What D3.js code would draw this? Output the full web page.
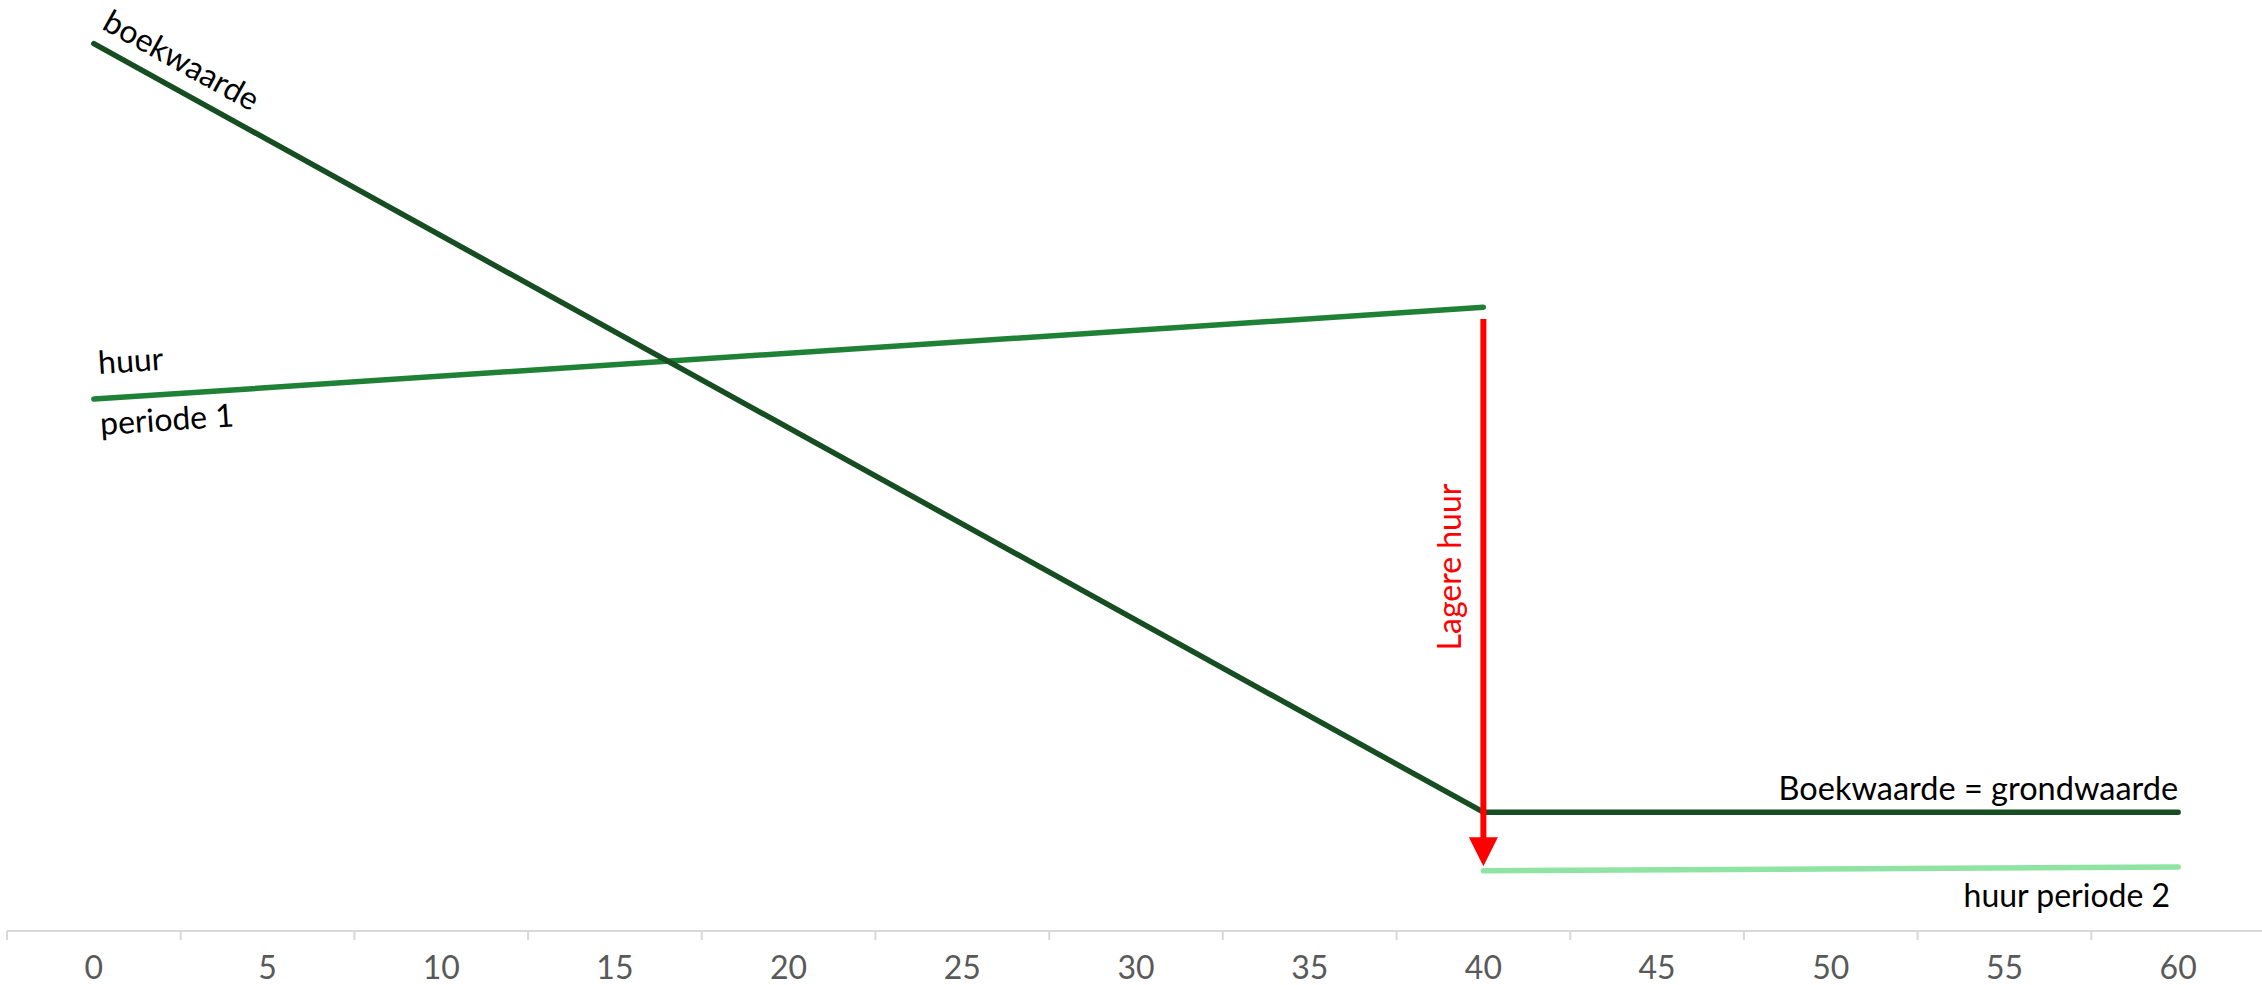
<!DOCTYPE html>
<html>
<head>
<meta charset="utf-8">
<script src="https://cdn.jsdelivr.net/npm/d3@7"></script>
<style>
  html, body { margin: 0; padding: 0; background: #fff; }
  svg { display: block; font-family: Lato, "Noto Sans", sans-serif; }
</style>
</head>
<body>
<svg id="chart" width="2262" height="985"></svg>
<script>
// ---- data ----
const categories = [0, 5, 10, 15, 20, 25, 30, 35, 40, 45, 50, 55, 60];
const tickLabels = categories.map(String);
const boekwaardeX = [0, 40, 60];
const boekwaardeY = [98.6, 13.2, 13.2];
const huur1X = [0, 40];
const huur1Y = [59.1, 69.3];
const huur2X = [40, 60];
const huur2Y = [6.7, 7.1];
const arrowX = 40;
const arrowFromY = 68.0;
const arrowToY = 7.2;

// ---- layout ----
const W = 2262, H = 985;
const axisY = 931;
const svg = d3.select("#chart");

const band = d3.scaleBand().domain(tickLabels).range([7, 2265]).paddingInner(0).paddingOuter(0);
const step = band.step();
const x = d3.scaleLinear()
  .domain([categories[0], categories[categories.length - 1]])
  .range([band(tickLabels[0]) + step / 2, band(tickLabels[tickLabels.length - 1]) + step / 2]);
const y = d3.scaleLinear().domain([0, 100]).range([axisY, 31]);

// ---- axis ----
const axisG = svg.append("g").attr("transform", `translate(0,${axisY})`);
axisG.append("line")
  .attr("x1", band.range()[0]).attr("x2", W)
  .attr("y1", 0).attr("y2", 0)
  .attr("stroke", "#d9d9d9").attr("stroke-width", 2);
// boundary ticks
const boundaries = tickLabels.map(d => band(d)).concat([band(tickLabels[tickLabels.length - 1]) + step]);
axisG.selectAll("line.tick").data(boundaries).enter().append("line")
  .attr("class", "tick")
  .attr("x1", d => d).attr("x2", d => d)
  .attr("y1", 0).attr("y2", 9)
  .attr("stroke", "#d9d9d9").attr("stroke-width", 2);
// labels via d3 axis
const labelAxis = d3.axisBottom(band).tickSize(0).tickPadding(0);
const la = axisG.append("g").call(labelAxis);
la.select(".domain").remove();
la.selectAll("text")
  .attr("y", 48).attr("dy", 0)
  .attr("fill", "#595959")
  .style("font-size", "32px")
  .style("font-family", "Lato, sans-serif");

// ---- lines ----
const lineGen = d3.line().x(d => x(d[0])).y(d => y(d[1]));
function drawLine(xs, ys, color) {
  svg.append("path")
    .datum(xs.map((v, i) => [v, ys[i]]))
    .attr("d", lineGen)
    .attr("fill", "none")
    .attr("stroke", color)
    .attr("stroke-width", 5.5)
    .attr("stroke-linecap", "round")
    .attr("stroke-linejoin", "round");
}
drawLine(huur1X, huur1Y, "#1f8136");
drawLine(huur2X, huur2Y, "#8fe3a3");
drawLine(boekwaardeX, boekwaardeY, "#164e22");

// ---- red arrow ----
const ax = x(arrowX);
const headH = 29, headW = 29;
svg.append("line")
  .attr("x1", ax).attr("x2", ax)
  .attr("y1", y(arrowFromY)).attr("y2", y(arrowToY) - headH + 2)
  .attr("stroke", "#ff0000").attr("stroke-width", 6);
svg.append("path")
  .attr("d", `M${ax - headW / 2},${y(arrowToY) - headH} L${ax + headW / 2},${y(arrowToY) - headH} L${ax},${y(arrowToY)} Z`)
  .attr("fill", "#ff0000");

// ---- labels ----
const angleB = Math.atan2(y(boekwaardeY[1]) - y(boekwaardeY[0]), x(boekwaardeX[1]) - x(boekwaardeX[0])) * 180 / Math.PI;
const angleH = Math.atan2(y(huur1Y[1]) - y(huur1Y[0]), x(huur1X[1]) - x(huur1X[0])) * 180 / Math.PI;

function label(txt, px, py, rot, anchor, color, size) {
  svg.append("text")
    .attr("transform", `translate(${px},${py}) rotate(${rot})`)
    .attr("text-anchor", anchor)
    .attr("fill", color || "#000")
    .style("font-size", (size || 32) + "px")
    .text(txt);
}
label("boekwaarde", x(0) + 7, y(boekwaardeY[0]) - 15, angleB, "start");
label("huur", x(0) + 5, y(huur1Y[0]) - 25, angleH, "start");
label("periode 1", x(0) + 7, y(huur1Y[0]) + 36, angleH, "start");
label("Lagere huur", ax - 22, 567, -90, "middle", "#ff0000");
label("Boekwaarde = grondwaarde", x(60), y(boekwaardeY[2]) - 12, 0, "end", null, 32.5);
label("huur periode 2", x(60) - 8, y(huur2Y[1]) + 40, 0, "end");
</script>
</body>
</html>
